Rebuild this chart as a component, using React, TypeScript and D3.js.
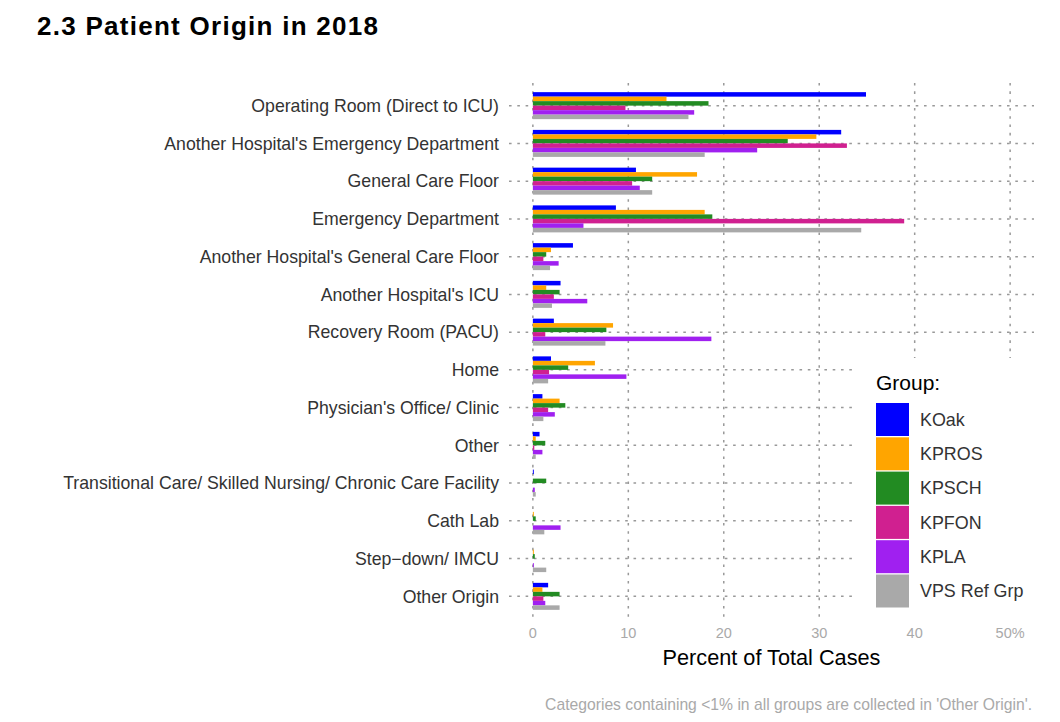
import * as d3 from "d3";

const categories = [
  "Operating Room (Direct to ICU)",
  "Another Hospital's Emergency Department",
  "General Care Floor",
  "Emergency Department",
  "Another Hospital's General Care Floor",
  "Another Hospital's ICU",
  "Recovery Room (PACU)",
  "Home",
  "Physician's Office/ Clinic",
  "Other",
  "Transitional Care/ Skilled Nursing/ Chronic Care Facility",
  "Cath Lab",
  "Step\u2212down/ IMCU",
  "Other Origin",
];

const groups = ["KOak", "KPROS", "KPSCH", "KPFON", "KPLA", "VPS Ref Grp"];
const groupColors = ["#0000FF", "#FFA500", "#228B22", "#D02090", "#A020F0", "#A9A9A9"];

const kOak = [34.9, 32.3, 10.8, 8.7, 4.2, 2.9, 2.2, 1.9, 1.0, 0.7, 0.1, 0.0, 0.0, 1.6];
const kPros = [14.0, 29.7, 17.2, 18.0, 1.9, 1.4, 8.4, 6.5, 2.8, 0.3, 0.0, 0.1, 0.1, 1.0];
const kPsch = [18.4, 26.7, 12.5, 18.8, 1.4, 2.8, 7.7, 3.7, 3.4, 1.3, 1.4, 0.3, 0.2, 2.8];
const kPfon = [9.7, 32.9, 10.4, 38.9, 1.1, 2.2, 1.3, 1.7, 1.6, 0.15, 0.0, 0.0, 0.0, 1.1];
const kPla = [16.9, 23.5, 11.2, 5.3, 2.7, 5.7, 18.7, 9.8, 2.3, 1.0, 0.2, 2.9, 0.1, 1.3];
const vpsRef = [16.3, 18.0, 12.5, 34.4, 1.8, 2.0, 7.6, 1.6, 1.1, 0.3, 0.3, 1.2, 1.4, 2.8];

const seriesValues = [kOak, kPros, kPsch, kPfon, kPla, vpsRef];

const xTicks = [0, 10, 20, 30, 40, 50];
const xTickLabels = ["0", "10", "20", "30", "40", "50%"];

const title = "2.3  Patient Origin in 2018";
const xTitle = "Percent of Total Cases";
const legendTitle = "Group:";
const caption = "Categories containing <1% in all groups are collected in 'Other Origin'.";

const width = 1060;
const height = 722;
const panel = { left: 509, right: 1034, top: 83, bottom: 619 };
const font = "'Liberation Sans', Arial, sans-serif";
const gridColor = "#999";

export default function App() {
  const x = d3.scaleLinear().domain([-2.5, 52.5]).range([panel.left, panel.right]);
  const y = d3
    .scalePoint<string>()
    .domain(categories)
    .range([panel.top, panel.bottom])
    .padding(0.6);
  const inner = d3.scaleBand<string>().domain(groups).range([-13.5, 13.5]);

  const legendX = 876;
  const legendTop = 403;
  const keySize = 33;
  const keyStep = 34.3;

  return (
    <div style={{ position: "absolute", left: 0, top: 0 }}>
      <svg width={width} height={height} style={{ display: "block", background: "#fff" }}>
        <text
          x={37}
          y={35}
          fontFamily={font}
          fontWeight="bold"
          fontSize={26}
          fill="#000"
          textLength={341}
          lengthAdjust="spacing"
        >
          {title}
        </text>

        {/* grid */}
        {categories.map((c) => (
          <line
            key={`hg-${c}`}
            x1={panel.left}
            x2={panel.right}
            y1={y(c)}
            y2={y(c)}
            stroke={gridColor}
            strokeWidth={1.5}
            strokeDasharray="2.6,5.7"
          />
        ))}
        {xTicks.map((t) => (
          <line
            key={`vg-${t}`}
            x1={x(t)}
            x2={x(t)}
            y1={panel.top}
            y2={panel.bottom}
            stroke={gridColor}
            strokeWidth={1.5}
            strokeDasharray="2.6,5.7"
          />
        ))}

        {/* bars */}
        {categories.map((c, ci) => (
          <g key={`bars-${c}`}>
            {groups.map((g, gi) => {
              const v = seriesValues[gi][ci];
              return (
                <rect
                  key={g}
                  x={x(0)}
                  y={(y(c) ?? 0) + (inner(g) ?? 0)}
                  width={Math.max(0, x(v) - x(0))}
                  height={inner.bandwidth()}
                  fill={groupColors[gi]}
                />
              );
            })}
          </g>
        ))}

        {/* category labels */}
        {categories.map((c) => (
          <text
            key={`lab-${c}`}
            x={499}
            y={y(c)}
            dy="0.35em"
            textAnchor="end"
            fontFamily={font}
            fontSize={17.7}
            fill="#333"
          >
            {c}
          </text>
        ))}

        {/* x tick labels */}
        {xTicks.map((t, i) => (
          <text
            key={`xt-${t}`}
            x={x(t)}
            y={638}
            textAnchor="middle"
            fontFamily={font}
            fontSize={14.5}
            fill="#a9a9a9"
          >
            {xTickLabels[i]}
          </text>
        ))}
        <text
          x={(panel.left + panel.right) / 2}
          y={665}
          textAnchor="middle"
          fontFamily={font}
          fontSize={21.7}
          fill="#000"
        >
          {xTitle}
        </text>

        {/* legend */}
        <rect x={857} y={358} width={185} height={264} fill="#fff" />
        <text x={legendX} y={390} fontFamily={font} fontSize={21} fill="#000">
          {legendTitle}
        </text>
        {groups.map((g, i) => (
          <g key={`leg-${g}`} transform={`translate(${legendX},${legendTop + i * keyStep})`}>
            <rect width={keySize} height={keySize} fill={groupColors[i]} />
            <text
              x={44}
              y={keySize / 2}
              dy="0.35em"
              fontFamily={font}
              fontSize={17.9}
              fill="#333"
            >
              {g}
            </text>
          </g>
        ))}

        <text
          x={1032}
          y={710}
          textAnchor="end"
          fontFamily={font}
          fontSize={15.7}
          fill="#a9a9a9"
        >
          {caption}
        </text>
      </svg>
    </div>
  );
}
